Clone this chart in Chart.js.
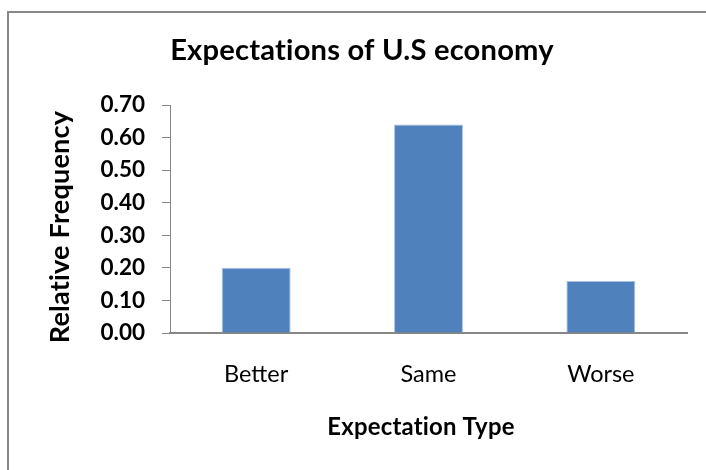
<!DOCTYPE html>
<html>
<head>
<meta charset="utf-8">
<script src="https://cdn.jsdelivr.net/npm/chart.js@4"></script>
<style>
html,body{margin:0;padding:0;background:#fff;}
canvas{display:block;}
</style>
</head>
<body>
<canvas id="c" width="706" height="470"></canvas>
<script>
// ---- data ----
const categories = ['Better', 'Same', 'Worse'];
const relativeFrequency = [0.20, 0.64, 0.16];
const yTickValues = [0.00, 0.10, 0.20, 0.30, 0.40, 0.50, 0.60, 0.70];
const chartTitle = 'Expectations of U.S economy';
const xAxisTitle = 'Expectation Type';
const yAxisTitle = 'Relative Frequency';

const FONT = 'Lato, "Open Sans", sans-serif';

function fitSize(ctx, text, weight, targetWidth) {
  ctx.font = weight + ' 100px ' + FONT;
  return 100 * targetWidth / ctx.measureText(text).width;
}

const decor = {
  id: 'decor',
  beforeDraw(chart) {
    const ctx = chart.ctx;
    ctx.save();
    ctx.fillStyle = '#ffffff';
    ctx.fillRect(0, 0, chart.width, chart.height);
    ctx.fillStyle = '#888888';
    ctx.fillRect(7, 11, chart.width - 7, 2);
    ctx.fillRect(7, 11, 2, chart.height - 11);
    ctx.restore();
  },
  afterDraw(chart) {
    const ctx = chart.ctx;
    ctx.save();
    ctx.fillStyle = '#000';
    ctx.textAlign = 'center';
    ctx.textBaseline = 'alphabetic';
    if ('letterSpacing' in ctx) ctx.letterSpacing = '0.2px';
    // chart title
    let s = fitSize(ctx, chartTitle, 'bold', 380);
    ctx.font = 'bold ' + s + 'px ' + FONT;
    ctx.fillText(chartTitle, 362, 60);
    // x axis title
    s = fitSize(ctx, xAxisTitle, 'bold', 185);
    ctx.font = 'bold ' + s + 'px ' + FONT;
    ctx.fillText(xAxisTitle, 421, 435);
    // y axis title
    s = fitSize(ctx, yAxisTitle, 'bold', 230);
    ctx.font = 'bold ' + s + 'px ' + FONT;
    ctx.translate(69, 227);
    ctx.rotate(-Math.PI / 2);
    ctx.fillText(yAxisTitle, 0, 0);
    ctx.restore();
  }
};

new Chart(document.getElementById('c'), {
  type: 'bar',
  data: {
    labels: categories,
    datasets: [{
      data: relativeFrequency,
      backgroundColor: '#4F81BD',
      borderColor: '#A9C0DF',
      borderWidth: 1,
      categoryPercentage: 1.0,
      barPercentage: 0.4
    }]
  },
  options: {
    responsive: false,
    animation: false,
    layout: { padding: { top: 105, right: 19, left: 0, bottom: 0 } },
    plugins: {
      legend: { display: false },
      tooltip: { enabled: false },
      title: { display: false }
    },
    scales: {
      x: {
        grid: { display: false, drawTicks: false },
        border: { display: true, color: '#868686', width: 2 },
        ticks: { color: '#000', font: { family: FONT, size: 23.5 }, padding: 27 },
        afterFit(scale) { scale.height = 137; }
      },
      y: {
        min: yTickValues[0],
        max: yTickValues[yTickValues.length - 1],
        ticks: {
          stepSize: 0.1,
          color: '#000',
          font: { family: FONT, size: 22.5, weight: 'bold' },
          padding: 17,
          callback: (v) => Number(v).toFixed(2)
        },
        grid: { drawOnChartArea: false, drawTicks: true, tickLength: 8, color: '#868686' },
        border: { display: true, color: '#868686', width: 1 },
        afterFit(scale) { scale.width = 170; }
      }
    }
  },
  plugins: [decor]
});
</script>
</body>
</html>
